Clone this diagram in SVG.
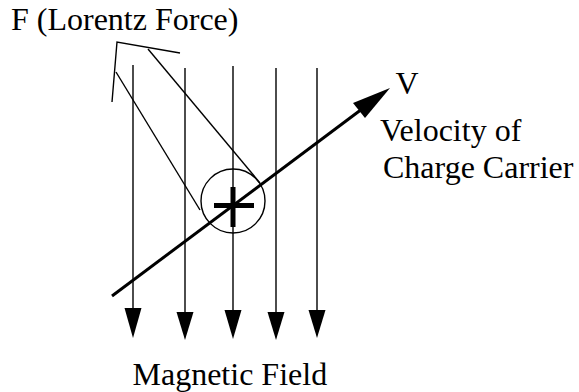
<svg xmlns="http://www.w3.org/2000/svg" width="579" height="392" viewBox="0 0 579 392">
<style>
  .lbl { font-family: 'Liberation Serif', 'Times New Roman', serif; font-size: 32px; fill: #000; }
  .thin { stroke: #000; stroke-width: 1.4; fill: none; }
  .thick { stroke: #000; stroke-width: 3; fill: none; stroke-linecap: butt; }
  .head { fill: #000; stroke: none; }
</style>
<rect width="579" height="392" fill="#fff"/>
<g id="connectors">
  <g id="field-lines">
    <line class="thin" x1="133" y1="65" x2="133" y2="310"/>
    <polygon class="head" points="124.5,308 141.5,308 133,338"/>
    <line class="thin" x1="185" y1="68" x2="185" y2="314"/>
    <polygon class="head" points="176.5,312 193.5,312 185,340"/>
    <line class="thin" x1="233" y1="66" x2="233" y2="312"/>
    <polygon class="head" points="224.5,310 241.5,310 233,339"/>
    <line class="thin" x1="276" y1="68" x2="276" y2="314"/>
    <polygon class="head" points="267.5,312 284.5,312 276,340"/>
    <line class="thin" x1="317" y1="68" x2="317" y2="312"/>
    <polygon class="head" points="308.5,310 325.5,310 317,338"/>
  </g>
  <g id="velocity-arrow">
    <line class="thick" x1="112" y1="296" x2="362" y2="109"/>
    <polygon class="head" points="390,88 353,103 365,118"/>
  </g>
  <g id="force-arrow">
    <line class="thin" x1="116" y1="72" x2="200" y2="210"/>
    <line class="thin" x1="148" y1="49" x2="260" y2="183"/>
    <polyline class="thin" points="112,102 117,42 180,53"/>
  </g>
</g>
<g id="charge">
  <circle class="thin" cx="233" cy="201" r="32"/>
  <rect x="214" y="203" width="40" height="5" fill="#000"/>
  <rect x="230.5" y="187" width="5" height="40" fill="#000"/>
</g>
<g id="label-force">
  <text class="lbl" font-size="31" x="11" y="30">F (Lorentz Force)</text>
</g>
<g id="label-v">
  <text class="lbl" x="395.5" y="94">V</text>
</g>
<g id="label-velocity">
  <text class="lbl" x="380" y="141">Velocity of</text>
  <text class="lbl" x="383" y="178">Charge Carrier</text>
</g>
<g id="label-field">
  <text class="lbl" font-size="31.7" x="132.5" y="385">Magnetic Field</text>
</g>
</svg>
